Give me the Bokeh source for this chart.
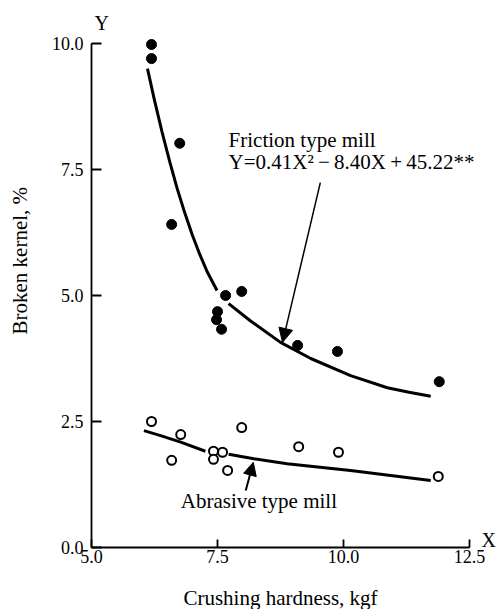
from math import pi, nan
from bokeh.plotting import figure
from bokeh.models import Range1d, FixedTicker, Label, Arrow, NormalHead
from bokeh.embed import file_html
from bokeh.resources import INLINE

# ---- data ----
friction_x = [6.19, 6.19, 6.75, 6.59, 7.66, 7.98, 7.50, 7.48, 7.58, 9.09, 9.88, 11.90]
friction_y = [9.98, 9.70, 8.02, 6.41, 5.00, 5.08, 4.68, 4.52, 4.33, 4.01, 3.89, 3.29]

abrasive_x = [6.19, 6.59, 6.77, 7.42, 7.42, 7.60, 7.70, 7.98, 9.11, 9.90, 11.88]
abrasive_y = [2.50, 1.73, 2.24, 1.91, 1.75, 1.89, 1.53, 2.38, 2.00, 1.89, 1.41]

friction_fit_x = [6.11, 6.25, 6.40, 6.55, 6.70, 6.85, 7.00, 7.15, 7.30, 7.49, nan,
                  7.72, 8.15, 8.75, 9.35, 10.14, 10.87, 11.30, 11.73]
friction_fit_y = [9.50, 8.87, 8.24, 7.66, 7.12, 6.64, 6.20, 5.81, 5.46, 5.10, nan,
                  4.84, 4.50, 4.07, 3.75, 3.41, 3.17, 3.08, 3.00]

abrasive_fit_x = [6.04, 6.37, 6.77, 7.26, nan, 7.72, 8.22, 8.88, 10.14, 11.73]
abrasive_fit_y = [2.32, 2.22, 2.09, 1.91, nan, 1.85, 1.76, 1.66, 1.53, 1.33]

x_ticks = [5.0, 7.5, 10.0, 12.5]
x_tick_labels = ["5.0", "7.5", "10.0", "12.5"]
y_ticks = [0.0, 2.5, 5.0, 7.5, 10.0]
y_tick_labels = ["0.0", "2.5", "5.0", "7.5", "10.0"]

x_title = "Crushing hardness, kgf"
y_title = "Broken kernel, %"
friction_name = "Friction type mill"
friction_eq = "Y=0.41X\u00b2\u2009\u2212\u20098.40X\u2009+\u200945.22**"
abrasive_name = "Abrasive type mill"

FONT = "Liberation Serif"

# frame covers the whole canvas; the axes sit at x=5 and y=0 inside it
p = figure(width=498, height=609, output_backend="svg", toolbar_location=None,
           x_range=Range1d(3.194, 13.075), y_range=Range1d(-1.230, 10.853),
           min_border=0, min_border_left=0, min_border_right=0,
           min_border_top=0, min_border_bottom=0)
p.outline_line_color = None
p.xgrid.visible = False
p.ygrid.visible = False
p.background_fill_color = "white"
p.border_fill_color = "white"

xa = p.xaxis[0]
ya = p.yaxis[0]
xa.fixed_location = 0
ya.fixed_location = 5
xa.bounds = (5, 12.5)
ya.bounds = (0, 10)

for ax in (xa, ya):
    ax.axis_line_width = 1.8
    ax.axis_line_color = "black"
    ax.major_tick_line_width = 1.8
    ax.major_tick_line_color = "black"
    ax.major_tick_out = 0
    ax.minor_tick_in = 0
    ax.minor_tick_out = 0
    ax.major_label_text_font = FONT
    ax.major_label_text_font_size = "18px"
    ax.major_label_text_color = "black"

xa.ticker = FixedTicker(ticks=x_ticks)
xa.major_label_overrides = dict(zip(x_ticks, x_tick_labels))
xa.major_tick_in = 8
xa.major_label_standoff = 2
xa.axis_label = x_title
xa.axis_label_text_font = FONT
xa.axis_label_text_font_size = "21px"
xa.axis_label_text_font_style = "normal"
xa.axis_label_text_color = "black"
xa.axis_label_standoff = 20

ya.ticker = FixedTicker(ticks=y_ticks)
ya.major_label_overrides = dict(zip(y_ticks, y_tick_labels))
ya.major_tick_in = 10
ya.major_label_standoff = 8

# fitted curves
p.line(friction_fit_x, friction_fit_y, line_color="black", line_width=3)
p.line(abrasive_fit_x, abrasive_fit_y, line_color="black", line_width=3)

# observations
p.scatter(friction_x, friction_y, marker="circle", size=10, fill_color="black", line_color="black")
p.scatter(abrasive_x, abrasive_y, marker="circle", size=9, fill_color="white",
          line_color="black", line_width=2)

# annotations
def lab(x, y, text, align="left", angle=0.0, size="21px"):
    p.add_layout(Label(x=x, y=y, text=text, angle=angle, text_align=align,
                       text_baseline="middle", text_font=FONT, text_font_size=size,
                       text_color="black"))

lab(3.59, 5.69, y_title, align="center", angle=pi / 2)
lab(5.2, 10.40, "Y", align="center", size="20px")
lab(12.88, 0.14, "X", align="center", size="20px")
lab(7.72, 8.08, friction_name)
lab(7.72, 7.64, friction_eq)
lab(6.77, 0.93, abrasive_name)

p.add_layout(Arrow(end=NormalHead(size=14, fill_color="black", line_color="black"),
                   x_start=9.54, y_start=7.24, x_end=8.79, y_end=4.07,
                   line_width=1.5, line_color="black"))
p.add_layout(Arrow(end=NormalHead(size=13, fill_color="black", line_color="black"),
                   x_start=8.06, y_start=1.13, x_end=8.21, y_end=1.69,
                   line_width=2, line_color="black"))

open("out.html", "w").write(file_html(p, INLINE))
